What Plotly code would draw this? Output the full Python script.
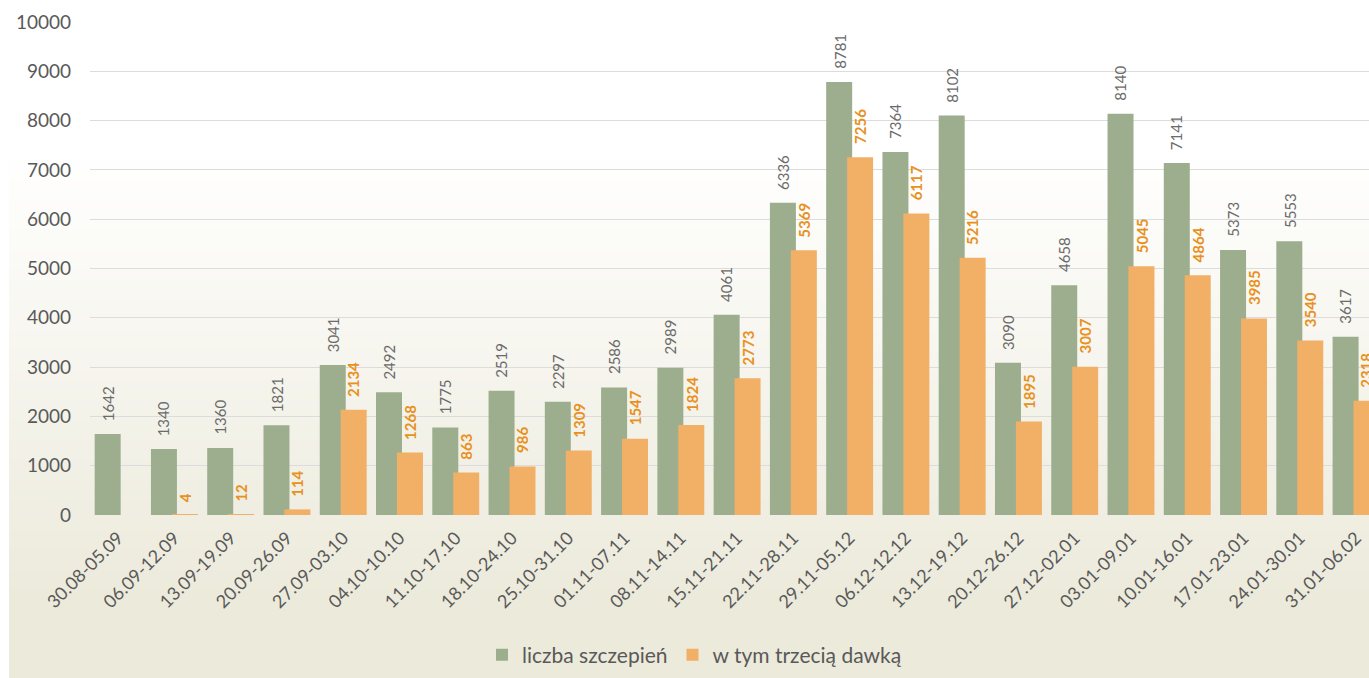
import plotly.graph_objects as go

categories = ["30.08-05.09", "06.09-12.09", "13.09-19.09", "20.09-26.09", "27.09-03.10",
              "04.10-10.10", "11.10-17.10", "18.10-24.10", "25.10-31.10", "01.11-07.11",
              "08.11-14.11", "15.11-21.11", "22.11-28.11", "29.11-05.12", "06.12-12.12",
              "13.12-19.12", "20.12-26.12", "27.12-02.01", "03.01-09.01", "10.01-16.01",
              "17.01-23.01", "24.01-30.01", "31.01-06.02"]
total = [1642, 1340, 1360, 1821, 3041, 2492, 1775, 2519, 2297, 2586, 2989, 4061, 6336,
         8781, 7364, 8102, 3090, 4658, 8140, 7141, 5373, 5553, 3617]
third = [None, 4, 12, 114, 2134, 1268, 863, 986, 1309, 1547, 1824, 2773, 5369,
         7256, 6117, 5216, 1895, 3007, 5045, 4864, 3985, 3540, 2318]
series_names = ["liczba szczepień", "w tym trzecią dawką"]
y_ticks = [0, 1000, 2000, 3000, 4000, 5000, 6000, 7000, 8000, 9000, 10000]
y_tick_labels = [str(v) for v in y_ticks]

GREEN = "#9DAE8F"
ORANGE = "#F2AF66"
FONT = "Lato"
W, H = 1369, 678
ML, MR, MT, MB = 90, 0, 22, 163
PW, PH = W - ML - MR, H - MT - MB

fig = go.Figure()
fig.add_trace(go.Bar(x=categories, y=total, name=series_names[0], marker_color=GREEN,
                     offset=-0.417, width=0.462, marker_line_width=0))
fig.add_trace(go.Bar(x=categories, y=third, name=series_names[1], marker_color=ORANGE,
                     offset=-0.045, width=0.462, marker_line_width=0))

# data labels
for c, v in zip(categories, total):
    fig.add_annotation(x=c, y=v, text=str(v), textangle=-90, showarrow=False,
                       xanchor="center", yanchor="bottom", xshift=-10.5, yshift=11,
                       font=dict(family=FONT, size=15, color="#6B6B6B"))
for c, v in zip(categories, third):
    if v is None:
        continue
    fig.add_annotation(x=c, y=v, text="<b>%d</b>" % v, textangle=-90, showarrow=False,
                       xanchor="center", yanchor="bottom", xshift=10.5, yshift=11,
                       font=dict(family=FONT, size=15, color="#E8911E"))

# background gradient (white top -> beige bottom), as paper-referenced strips
def px_to_py(ypx):
    return (H - MB - ypx) / PH

x0p = (9 - ML) / PW
x1p = (W - ML + 5) / PW
shapes = []
shapes.append(dict(type="rect", xref="paper", yref="paper", x0=x0p, x1=x1p,
                   y0=px_to_py(H + 5), y1=px_to_py(-5), fillcolor="#FFFFFF",
                   line_width=0, layer="below"))
top, bot = 150, 600
n = 45
c0 = (255, 255, 255)
c1 = (236, 234, 219)
for i in range(n):
    ya = top + (bot - top) * i / n
    yb = top + (bot - top) * (i + 1) / n
    t = (i + 0.5) / n
    col = tuple(round(c0[k] + (c1[k] - c0[k]) * t) for k in range(3))
    shapes.append(dict(type="rect", xref="paper", yref="paper", x0=x0p, x1=x1p,
                       y0=px_to_py(yb + 0.5), y1=px_to_py(ya), fillcolor="rgb(%d,%d,%d)" % col,
                       line_width=0, layer="below"))
shapes.append(dict(type="rect", xref="paper", yref="paper", x0=x0p, x1=x1p,
                   y0=px_to_py(H + 5), y1=px_to_py(bot), fillcolor="rgb(%d,%d,%d)" % c1,
                   line_width=0, layer="below"))

fig.update_layout(
    width=W, height=H,
    margin=dict(l=ML, r=MR, t=MT, b=MB, pad=0),
    paper_bgcolor="white", plot_bgcolor="rgba(0,0,0,0)",
    barmode="overlay",
    shapes=shapes,
    font=dict(family=FONT, color="#595959"),
    showlegend=True,
    legend=dict(orientation="h", x=(482 - ML) / PW, xanchor="left", y=-0.284, yanchor="middle",
                font=dict(family=FONT, size=21, color="#595959"),
                bgcolor="rgba(0,0,0,0)", itemwidth=30, traceorder="normal"),
    xaxis=dict(type="category", range=[-0.5, 22.23], tickangle=-45,
               tickfont=dict(family=FONT, size=18, color="#595959"),
               showgrid=False, showline=False, ticks="", zeroline=False,
               ticklabelstandoff=8),
    yaxis=dict(range=[0, 10000], tickvals=y_ticks, ticktext=y_tick_labels,
               showgrid=True, gridcolor="#DCDCDC",
               gridwidth=1, zeroline=False, showline=False, ticks="",
               tickfont=dict(family=FONT, size=19, color="#595959"),
               ticklabelstandoff=18),
)

fig.write_html("out.html", config={"displayModeBar": False},
               post_script="document.body.style.margin='0';")
